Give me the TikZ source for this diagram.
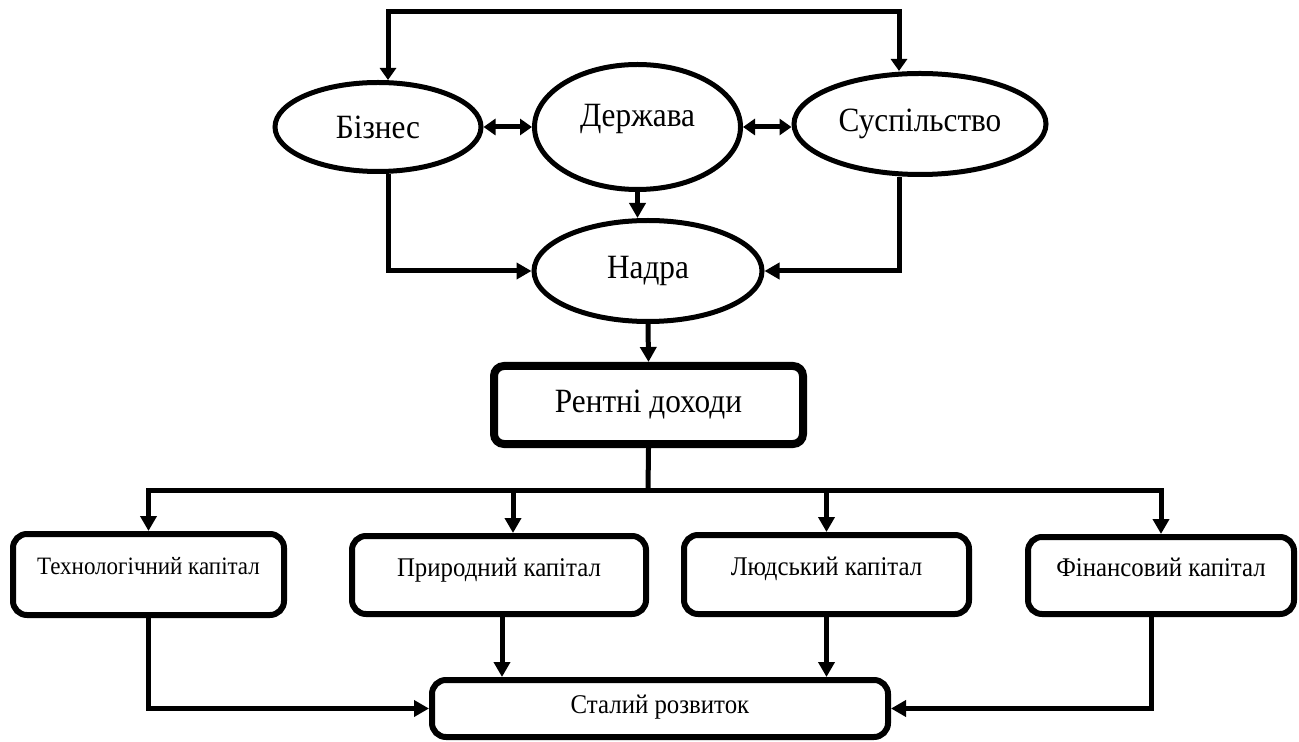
\documentclass[tikz,border=0pt]{standalone}
\usepackage{fontspec}
\setmainfont{Liberation Serif}[FakeStretch=0.92]
\usetikzlibrary{shapes.geometric,arrows.meta}

\tikzset{
  oval/.style={ellipse,draw,line width=2.5pt,inner sep=0pt,font=\fontsize{17}{20}\selectfont},
  capbox/.style={rectangle,rounded corners=7pt,draw,line width=3pt,inner sep=0pt,
    text height=5.5pt,text depth=4.3pt,font=\fontsize{13.5}{16}\selectfont},
  link/.style={line width=2.5pt,-{Triangle[length=7.5pt,width=8pt]}},
  twoway/.style={line width=2.5pt,{Triangle[length=6pt,width=8pt]}-{Triangle[length=6pt,width=8pt]}},
}

\begin{document}
\begin{tikzpicture}[x=0.5pt,y=-0.5pt]
      \useasboundingbox (0,0) rectangle (1299,742);
      \node[oval,minimum width=103pt,minimum height=44.5pt] (biznes) at (378,127) {Бізнес};
      \node[oval,minimum width=103pt,minimum height=62.5pt,text height=8pt,text depth=8pt] (derzhava) at (637.5,127) {Держава};
      \node[oval,minimum width=126pt,minimum height=50.5pt] (suspilstvo) at (920,124) {Суспільство};
      \node[oval,minimum width=114pt,minimum height=50.5pt] (nadra) at (648,271) {Надра};
      \node[draw,line width=4pt,rounded corners=5pt,inner sep=0pt,minimum width=154.5pt,minimum height=39pt,
        font=\fontsize{17}{20}\selectfont] (renta) at (648.5,405) {Рентні доходи};
      \node[capbox,minimum width=135.5pt,minimum height=40.5pt,text height=5pt,text depth=5pt,
        font=\fontsize{12.5}{15}\selectfont] (tekh) at (148.5,574.5) {Технологічний капітал};
      \node[capbox,minimum width=147pt,minimum height=39pt] (pryrod) at (499,575) {Природний капітал};
      \node[capbox,minimum width=142.5pt,minimum height=39.5pt] (liud) at (826.5,574.5) {Людський капітал};
      \node[capbox,minimum width=133pt,minimum height=38.5pt] (fin) at (1161,575.5) {Фінансовий капітал};
      \node[capbox,minimum width=228pt,minimum height=28.5pt,text height=8pt,text depth=3.3pt] (rozvytok) at (660,708.5) {Сталий розвиток};
      \coordinate (topline) at (640,12);
      \coordinate (bus) at (648,490);
      \begin{scope}
        \draw[twoway] ([xshift=5pt]biznes.north) |- (topline) -| ([xshift=-10.5pt]suspilstvo.north);
        \draw[twoway] (biznes.east) -- (derzhava.west);
        \draw[twoway] (derzhava.east) -- (derzhava.east -| suspilstvo.west);
        \draw[link] (derzhava.south) -- (derzhava.south |- nadra.north);
        \draw[link] ([xshift=5pt]biznes.south) |- (nadra.west);
        \draw[link] ([xshift=-10.5pt]suspilstvo.south) |- (nadra.east);
        \draw[link] (nadra.south) -- (renta.north);
        \draw[line width=2.5pt] (renta.south) -- (bus);
        \draw[link] (bus) -| (tekh.north);
        \draw[link] (bus) -| ([xshift=7pt]pryrod.north);
        \draw[link] (bus) -| (liud.north);
        \draw[link] (bus) -| (fin.north);
        \draw[link] (tekh.south) |- (rozvytok.west);
        \draw[link] ([xshift=1.5pt]pryrod.south) -- ([xshift=1.5pt]pryrod.south |- rozvytok.north);
        \draw[link] (liud.south) -- (liud.south |- rozvytok.north);
        \draw[link] ([xshift=-5pt]fin.south) |- (rozvytok.east);
      \end{scope}
\end{tikzpicture}
\end{document}
